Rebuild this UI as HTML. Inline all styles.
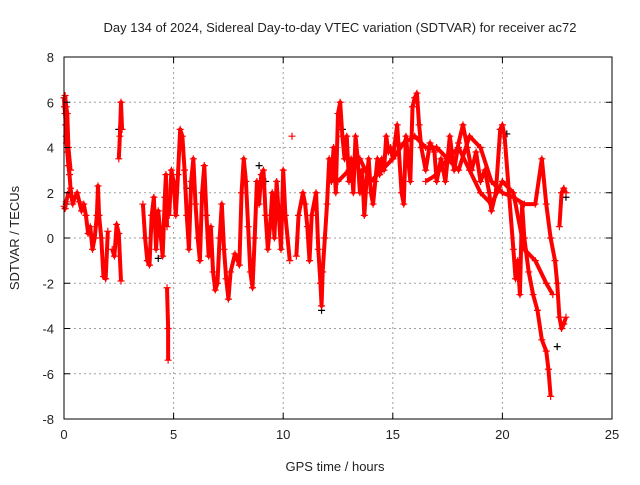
<!DOCTYPE html>
<html><head><meta charset="utf-8"><style>
body{margin:0;background:#fff;}
svg text{font-family:"Liberation Sans",sans-serif;font-size:13px;fill:#222;}
</style></head><body>
<svg id="chart" width="640" height="480" xmlns="http://www.w3.org/2000/svg">
<rect width="640" height="480" fill="#fff"/>
<text x="340" y="32" text-anchor="middle">Day 134 of 2024, Sidereal Day-to-day VTEC variation (SDTVAR) for receiver ac72</text>
<text transform="translate(19,238) rotate(-90)" text-anchor="middle">SDTVAR / TECUs</text>
<text x="335" y="471" text-anchor="middle">GPS time / hours</text>
<g id="grid"></g><g id="marks"></g><g id="axes"></g>
</svg>
<script>
const xTicks=[0,5,10,15,20,25];
const yTicks=[-8,-6,-4,-2,0,2,4,6,8];
const trackTimes=[
[0,0.02,0.05,0.08,0.1,0.12,0.15,0.2,0.25,0.3,0.35,0.4,0.5,0.6,0.7,0.8,0.9,1.0,1.1,1.2,1.3,1.4,1.5,1.55,1.6,1.7,1.8,1.9,2.0],
[0,0.05,0.1,0.2,0.3],
[0.05,0.1,0.15,0.2,0.3],
[2.2,2.3,2.4,2.5,2.6],
[2.5,2.55,2.6,2.65],
[3.6,3.7,3.8,3.9,4.0,4.1,4.2,4.3,4.5,4.6,4.65,4.7],
[4.7,4.75,4.75],
[4.8,4.9,5.0,5.1,5.2,5.3,5.4,5.5,5.6,5.7,5.8,5.9,6.0,6.1,6.2,6.3,6.4,6.5,6.6,6.7,6.8,6.9,7.0,7.1,7.2,7.3,7.4,7.5,7.6,7.8,8.0,8.1,8.2,8.3,8.4,8.5,8.6,8.7,8.8,8.9,9.0,9.1,9.2,9.3,9.4,9.5,9.6,9.7,9.8,9.9,10.0,10.1,10.3],
[10.4],
[10.6,10.7,10.9,11.0,11.1,11.2,11.3,11.5,11.6,11.7,11.75,11.8,11.9,12.0,12.1,12.2,12.3,12.4,12.5,12.6,12.7,12.8,12.9,13.0,13.1,13.2,13.3,13.4,13.5,13.6,13.7,13.8,13.9,14.0,14.1,14.2,14.3,14.4,14.5,14.6,14.7,14.8,14.9,15.0,15.2,15.4,15.5,15.6,15.8,15.9,16.0,16.1,16.2,16.3,16.5,16.7,16.9,17.0,17.2,17.4,17.6,17.8,18.0,18.2,18.4,18.6,18.8,19.0,19.2,19.4,19.5,19.7,19.9,20.0,20.1,20.3,20.5,20.6,20.7,20.8,20.9,21.0,21.2,21.4,21.6,21.8,22.0,22.1,22.2],
[12.5,13.0,13.5,14.0,14.5,15.0,15.5,16.0,16.5,17.0,17.5,18.0,18.5,19.0,19.5,20.0,20.5,21.0,21.5,21.8,22.0,22.2,22.4,22.5,22.6,22.7,22.8,22.9],
[16.5,17.0,17.5,18.0,18.5,19.0,19.5,20.0,20.5,21.0,21.5,22.0,22.3],
[22.6,22.7,22.8,22.9]
];
const trackValues=[
[6.2,5.8,5.5,5.0,4.5,4.2,3.8,3.2,2.8,2.2,1.8,1.5,1.8,2.0,1.6,1.2,1.5,1.0,0.2,0.5,-0.5,0.0,1.0,2.3,1.0,0.0,-1.7,-1.8,0.3],
[1.4,1.3,1.6,2.0,1.8],
[6.3,5.8,5.5,4.0,3.0],
[-0.5,-0.8,0.6,0.2,-1.9],
[3.5,4.5,6.0,4.8],
[1.5,0.0,-1.0,-1.2,1.0,1.8,-0.5,1.2,-0.8,1.8,2.8,0.5],
[-2.2,-4.0,-5.4],
[1.0,3.0,2.5,1.0,2.8,4.8,4.5,3.0,1.0,-0.5,2.5,3.5,1.5,0.0,-1.0,2.0,3.2,1.0,-0.8,0.5,-1.5,-2.3,-2.0,0.0,1.5,-0.5,-1.8,-2.7,-1.5,-0.7,-1.2,2.0,3.5,2.5,0.5,-1.5,-2.2,0.0,2.5,1.5,2.8,3.0,1.0,-0.5,0.5,2.0,0.0,2.5,1.0,-0.5,3.0,1.0,-1.0],
[4.5],
[-0.8,1.0,2.0,1.5,0.5,-1.0,1.0,2.0,-0.5,-2.0,-3.0,-1.5,0.0,1.5,3.5,2.5,4.0,2.0,5.5,6.0,4.5,3.5,4.5,2.5,3.5,2.0,4.5,3.5,2.0,3.0,1.0,2.5,3.5,2.0,1.5,2.5,3.5,2.8,3.5,3.0,4.5,3.8,4.0,3.5,5.0,2.0,1.5,4.5,2.5,5.8,6.2,6.4,5.0,4.0,3.0,4.2,3.8,2.5,3.5,2.5,4.5,3.0,4.2,5.0,4.0,3.0,3.8,2.5,3.0,2.0,1.2,2.0,4.8,5.0,4.5,2.0,-0.5,-1.8,-1.0,-2.5,1.5,0.0,-1.5,-2.5,-3.2,-4.5,-5.0,-5.8,-7.0],
[2.5,3.0,3.5,2.5,3.0,3.5,4.2,4.5,4.0,4.0,3.5,3.0,4.5,4.0,2.5,2.0,1.8,1.5,1.5,3.5,1.5,0.0,-1.0,-2.0,-3.5,-4.0,-3.8,-3.5],
[2.5,2.8,3.5,4.0,3.0,2.0,1.5,2.5,2.0,-0.5,-1.0,-2.0,-2.5],
[0.5,2.0,2.2,2.0]
];
const blackT=[0.1,2.5,4.3,5.6,8.9,9.2,11.75,12.7,20.2,22.5,22.9];
const blackV=[1.5,4.8,-0.9,2.2,3.2,2.5,-3.2,4.8,4.6,-4.8,1.8];
const X0=64,X1=612,Y0=419,Y1=57;
const xs=t=>X0+(t-0)/(25-0)*(X1-X0);
const ys=v=>Y0-(v+8)/16*(Y0-Y1);
const NS="http://www.w3.org/2000/svg";
function mk(tag,attrs,parent){const e=document.createElementNS(NS,tag);for(const k in attrs)e.setAttribute(k,attrs[k]);parent.appendChild(e);return e;}
const grid=document.getElementById('grid'),axes=document.getElementById('axes'),marks=document.getElementById('marks');
xTicks.forEach(t=>{const x=xs(t);
 if(t>0&&t<25){const g=mk('line',{x1:x,x2:x,y1:Y1,y2:Y0,stroke:'#a0a0a0','stroke-dasharray':'2,3'},grid);
 
 }
 const tk=mk('line',{x1:x,x2:x,y1:Y0,y2:Y0-6,stroke:'#000'},axes);
 
 
 const tk2=mk('line',{x1:x,x2:x,y1:Y1,y2:Y1+6,stroke:'#000'},axes);
 
 
 const l=mk('text',{x:x,y:Y0+20,'text-anchor':'middle'},axes);l.textContent=t;
 
 });
yTicks.forEach(v=>{const y=ys(v);
 if(v>-8&&v<8){const g=mk('line',{x1:X0,x2:X1,y1:y,y2:y,stroke:'#a0a0a0','stroke-dasharray':'2,3'},grid);
 
 }
 const tk=mk('line',{x1:X0,x2:X0+6,y1:y,y2:y,stroke:'#000'},axes);
 
 
 const tk2=mk('line',{x1:X1,x2:X1-6,y1:y,y2:y,stroke:'#000'},axes);
 
 
 const l=mk('text',{x:X0-10,y:y+5,'text-anchor':'end'},axes);l.textContent=v;
 
 });
const frame=mk('rect',{x:X0,y:Y1,width:X1-X0,height:Y0-Y1,fill:'none',stroke:'#000'},axes);


function plus(x,y,c,name){const p=mk('path',{d:`M${x-3.5},${y}h7M${x},${y-3.5}v7`,stroke:c,'stroke-width':1.2,fill:'none'},marks);
 
 }
blackT.forEach((t,i)=>plus(xs(t),ys(blackV[i]),'#000','black-point'));
trackTimes.forEach((tt,k)=>{
 const vv=trackValues[k];
 if(tt.length>1){const pl=mk('polyline',{points:tt.map((t,i)=>xs(t)+','+ys(vv[i])).join(' '),stroke:'#ff0000','stroke-width':4,fill:'none','stroke-linejoin':'round'},marks);
 
 }
 tt.forEach((t,i)=>plus(xs(t),ys(vv[i]),'#ff0000','sdtvar-point'));
});
</script>
</body></html>
